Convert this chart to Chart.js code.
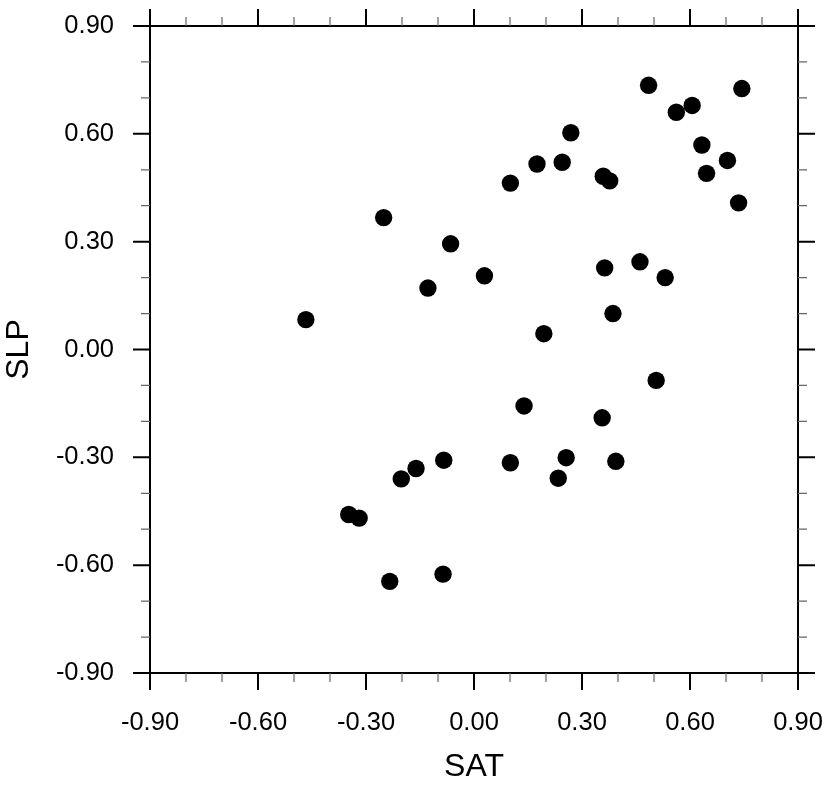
<!DOCTYPE html>
<html>
<head>
<meta charset="utf-8">
<script src="https://cdn.jsdelivr.net/npm/chart.js@4.4.1/dist/chart.umd.min.js"></script>
<style>
  html, body { margin: 0; padding: 0; background: #fff; }
  #wrap { width: 831px; height: 786px; }
</style>
</head>
<body>
<div id="wrap"><canvas id="chartOne" width="831" height="786"></canvas></div>
<script>
// SAT vs SLP values
const satValues = [
    -0.251, -0.065, 0.029, -0.128, -0.467, 0.194, 0.139, 0.356, -0.348, -0.319,
    -0.202, -0.161, -0.084, 0.101, 0.256, 0.234, 0.394, -0.234, -0.086, 0.485,
    0.744, 0.562, 0.606, 0.269, 0.175, 0.245, 0.101, 0.359, 0.377, 0.633,
    0.704, 0.646, 0.735, 0.363, 0.461, 0.531, 0.386, 0.506
];
const slpValues = [
    0.367, 0.294, 0.205, 0.171, 0.083, 0.044, -0.157, -0.190, -0.459, -0.469,
    -0.360, -0.331, -0.308, -0.315, -0.301, -0.358, -0.311, -0.645, -0.625, 0.735,
    0.726, 0.660, 0.679, 0.603, 0.516, 0.521, 0.463, 0.482, 0.469, 0.569,
    0.526, 0.490, 0.408, 0.227, 0.244, 0.200, 0.100, -0.086
];
const majorTicks = [-0.9, -0.6, -0.3, 0, 0.3, 0.6, 0.9];
const minorTicks = [-0.8, -0.7, -0.5, -0.4, -0.2, -0.1, 0.1, 0.2, 0.4, 0.5, 0.7, 0.8];

const FONT = "'Liberation Sans', Arial, Helvetica, sans-serif";

// NCL-style frame: outward major/minor ticks on all four sides
const frameTicks = {
    id: 'frameTicks',
    afterDraw(chart) {
        const c = chart.ctx;
        const xs = chart.scales.x, ys = chart.scales.y;
        const a = chart.chartArea;
        c.save();
        c.strokeStyle = '#000';
        c.lineWidth = 2;
        c.strokeRect(a.left, a.top, a.right - a.left, a.bottom - a.top);

        function tickSet(vals, len, width, color) {
            c.lineWidth = width;
            c.strokeStyle = color;
            c.beginPath();
            vals.forEach(v => {
                const px = xs.getPixelForValue(v);
                c.moveTo(px, a.bottom); c.lineTo(px, a.bottom + len);
                c.moveTo(px, a.top); c.lineTo(px, a.top - len);
                const py = ys.getPixelForValue(v);
                c.moveTo(a.left, py); c.lineTo(a.left - len, py);
                c.moveTo(a.right, py); c.lineTo(a.right + len, py);
            });
            c.stroke();
        }
        tickSet(minorTicks, 9, 1.2, '#666');
        tickSet(majorTicks, 17, 2, '#000');
        c.restore();
    }
};

const ctx = document.getElementById('chartOne').getContext('2d');
const points = satValues.map((v, i) => ({ x: v, y: slpValues[i] }));

const myChart = new Chart(ctx, {
    type: 'scatter',
    data: {
        datasets: [{
            data: points,
            backgroundColor: '#000',
            borderColor: '#000',
            borderWidth: 0,
            pointRadius: 8.7,
            pointHoverRadius: 8.7
        }]
    },
    options: {
        responsive: false,
        animation: false,
        layout: { padding: { top: 26, right: 33, left: 0, bottom: 0 } },
        scales: {
            x: {
                type: 'linear',
                min: -0.9,
                max: 0.9,
                afterBuildTicks: s => { s.ticks = majorTicks.map(v => ({ value: v })); },
                afterFit: s => {
                    s.height = 113;
                    s.paddingLeft = 0; s.paddingRight = 0;
                },
                grid: { display: false },
                border: { display: false },
                ticks: {
                    color: '#000',
                    padding: 27,
                    maxRotation: 0,
                    font: { family: FONT, size: 25.5 },
                    callback: v => v.toFixed(2)
                },
                title: {
                    display: true,
                    text: 'SAT',
                    color: '#000',
                    font: { family: FONT, size: 32 },
                    padding: 0
                }
            },
            y: {
                type: 'linear',
                min: -0.9,
                max: 0.9,
                afterBuildTicks: s => { s.ticks = majorTicks.map(v => ({ value: v })); },
                afterFit: s => {
                    s.width = 150;
                    s.paddingTop = 0; s.paddingBottom = 0;
                },
                grid: { display: false },
                border: { display: false },
                ticks: {
                    color: '#000',
                    padding: 28,
                    font: { family: FONT, size: 25.5 },
                    callback: v => v.toFixed(2)
                },
                title: {
                    display: true,
                    text: 'SLP',
                    color: '#000',
                    font: { family: FONT, size: 32 },
                    padding: 0
                }
            }
        },
        plugins: {
            legend: false,
            tooltip: { enabled: false }
        }
    },
    plugins: [frameTicks]
});
</script>
</body>
</html>
